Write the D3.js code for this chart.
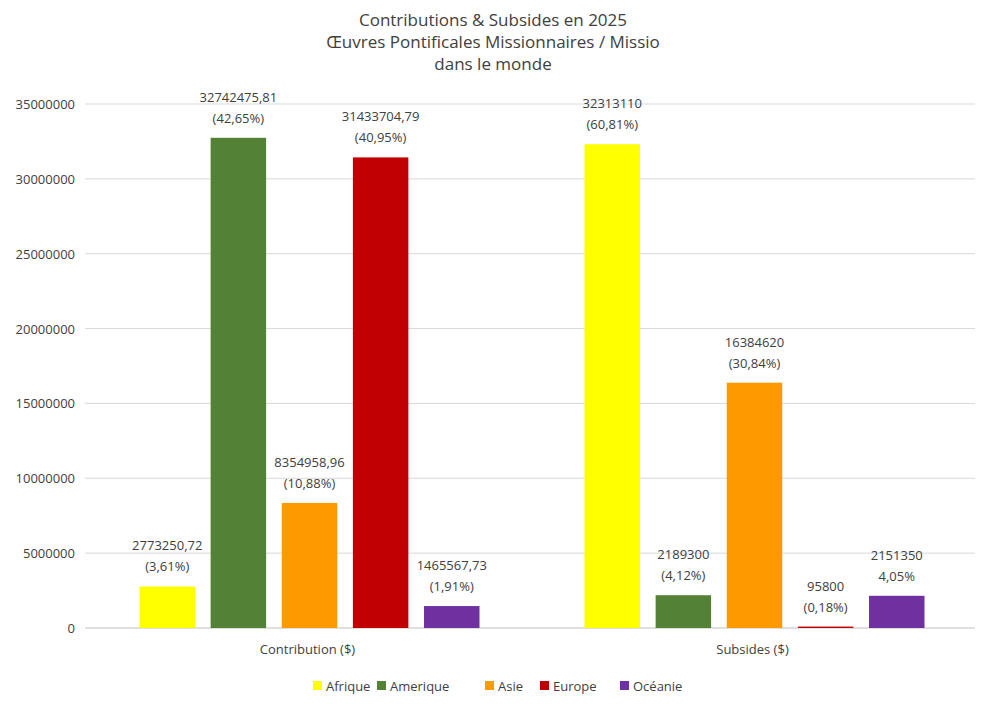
<!DOCTYPE html>
<html><head><meta charset="utf-8">
<script src="https://cdn.jsdelivr.net/npm/d3@7"></script>
<style>body{margin:0;background:#fff}text{font-family:"Open Sans","Noto Sans",sans-serif;fill:#404040}</style>
</head><body><svg id="c" width="986" height="704"></svg>
<script>
// chart data
const groups = ["Contribution ($)", "Subsides ($)"];
const regions = ["Afrique", "Amerique", "Asie", "Europe", "Océanie"];
const colors = ["#ffff00", "#538135", "#ff9900", "#c00000", "#7030a0"];
const contribution = [2773250.72, 32742475.81, 8354958.96, 31433704.79, 1465567.73];
const subsides = [32313110, 2189300, 16384620, 95800, 2151350];
const contribLabels = [["2773250,72","(3,61%)"],["32742475,81","(42,65%)"],["8354958,96","(10,88%)"],["31433704,79","(40,95%)"],["1465567,73","(1,91%)"]];
const subsLabels = [["32313110","(60,81%)"],["2189300","(4,12%)"],["16384620","(30,84%)"],["95800","(0,18%)"],["2151350","4,05%"]];
const yTicks = [0,5000000,10000000,15000000,20000000,25000000,30000000,35000000];

const svg = d3.select("#c");
const m = {l:85, r:975, t:104, b:628};
const y = d3.scaleLinear().domain([0,35000000]).range([m.b, m.t]);
const x0 = d3.scaleBand().domain(groups).range([m.l, m.r]);
const x1 = d3.scaleBand().domain(regions).range([0, 340]).paddingInner(0.22);

// title
svg.append("text").attr("x",493).attr("text-anchor","middle").style("font-size","17px")
  .selectAll("tspan").data(["Contributions & Subsides en 2025","Œuvres Pontificales Missionnaires / Missio","dans le monde"])
  .join("tspan").attr("x",493).attr("y",(d,i)=>26+i*22).text(d=>d);

// grid + y labels
svg.selectAll(".grid").data(yTicks).join("line")
  .attr("x1",m.l).attr("x2",m.r).attr("y1",d=>y(d)).attr("y2",d=>y(d))
  .attr("stroke",d=>d===0?"#bfbfbf":"#d9d9d9");
svg.selectAll(".yl").data(yTicks).join("text")
  .attr("x",75).attr("y",d=>y(d)+5).attr("text-anchor","end").style("font-size","13px").text(d=>d);

const series = [contribution, subsides];
const labels = [contribLabels, subsLabels];
groups.forEach((g,gi)=>{
  const gx = x0(g) + (x0.bandwidth()-340)/2 + 2;
  const data = regions.map((r,i)=>({r, v:series[gi][i], c:colors[i], l:labels[gi][i]}));
  const gg = svg.append("g").attr("transform",`translate(${gx},0)`);
  gg.selectAll("rect").data(data).join("rect")
    .attr("x",d=>x1(d.r)).attr("width",x1.bandwidth())
    .attr("y",d=>y(d.v)).attr("height",d=>y(0)-y(d.v)).attr("fill",d=>d.c);
  gg.selectAll(".lab").data(data).join("text")
    .attr("text-anchor","middle").style("font-size","13px")
    .each(function(d){
      const t = d3.select(this), cx = x1(d.r)+x1.bandwidth()/2, top = y(d.v);
      t.append("tspan").attr("x",cx).attr("y",top-36).text(d.l[0]);
      t.append("tspan").attr("x",cx).attr("y",top-15).text(d.l[1]);
    });
  svg.append("text").attr("x",x0(g)+x0.bandwidth()/2).attr("y",654)
    .attr("text-anchor","middle").style("font-size","13px").text(g);
});

// legend
const lx = [313, 377, 485, 540, 620];
const lg = svg.selectAll(".lg").data(regions).join("g")
  .attr("transform",(d,i)=>`translate(${lx[i]},686)`);
lg.append("rect").attr("x",0).attr("y",-5).attr("width",9).attr("height",9).attr("fill",(d,i)=>colors[i]);
lg.append("text").attr("x",13).attr("y",5).style("font-size","13px").text(d=>d);
</script></body></html>
